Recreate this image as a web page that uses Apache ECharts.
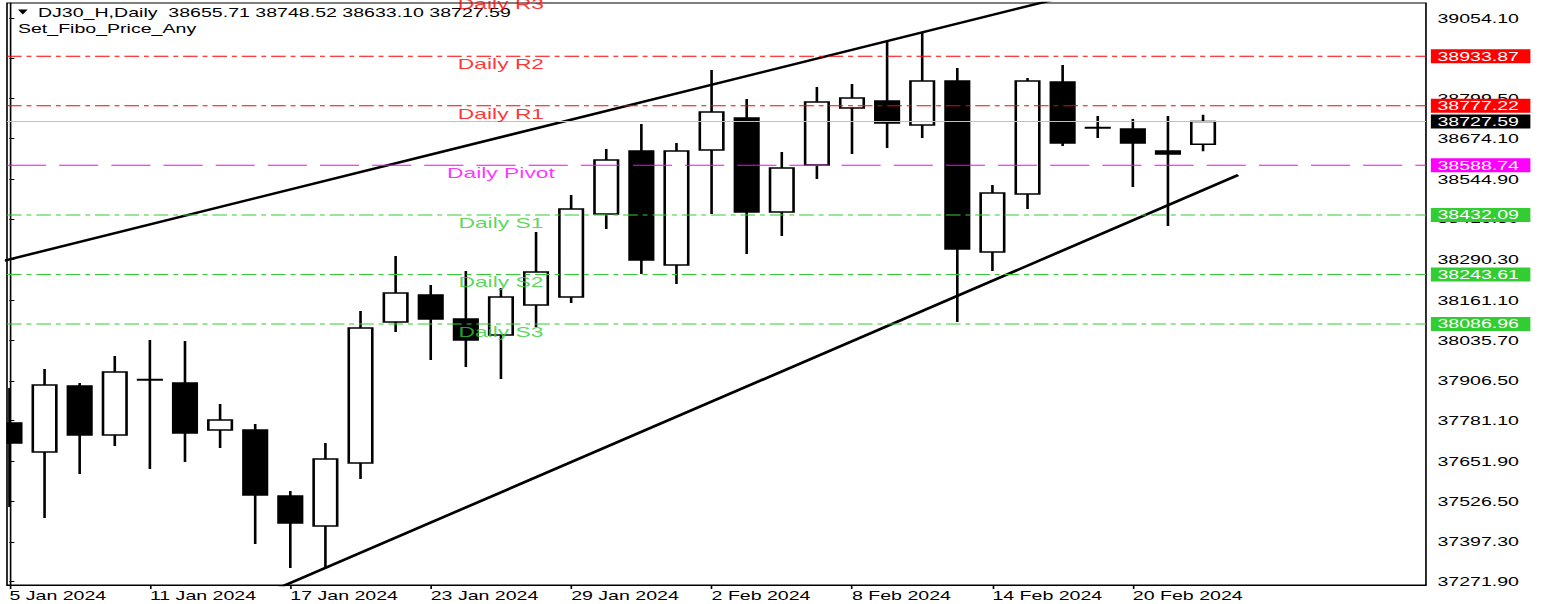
<!DOCTYPE html>
<html>
<head>
<meta charset="utf-8">
<title>DJ30_H, Daily</title>
<script src="https://cdn.jsdelivr.net/npm/echarts@6/dist/echarts.min.js"></script>
<style>
    html, body { margin: 0; padding: 0; background: #fff; overflow: hidden; }
    #chart { height: 604px; transform-origin: 0 0; }
</style>
</head>
<body>
<div id="chart"></div>
<script>
// bars (one per trading day)
const dates = ['5 Jan 2024', '8 Jan 2024', '9 Jan 2024', '10 Jan 2024', '11 Jan 2024', '12 Jan 2024',
    '15 Jan 2024', '16 Jan 2024', '17 Jan 2024', '18 Jan 2024', '19 Jan 2024', '22 Jan 2024',
    '23 Jan 2024', '24 Jan 2024', '25 Jan 2024', '26 Jan 2024', '29 Jan 2024', '30 Jan 2024',
    '31 Jan 2024', '1 Feb 2024', '2 Feb 2024', '5 Feb 2024', '6 Feb 2024', '7 Feb 2024',
    '8 Feb 2024', '9 Feb 2024', '12 Feb 2024', '13 Feb 2024', '14 Feb 2024', '15 Feb 2024',
    '16 Feb 2024', '19 Feb 2024', '20 Feb 2024', '21 Feb 2024', '22 Feb 2024'];
const opens = [37773.8, 37682.1, 37890.9, 37735.9, 37909.9, 37900.4, 37751.7, 37751.7, 37543.0, 37448.1,
    37647.3, 38093.3, 38178.7, 38102.8, 38052.2, 38147.1, 38172.4, 38434.9, 38634.2, 38273.6,
    38637.3, 38738.6, 38441.2, 38589.9, 38770.2, 38792.3, 38716.4, 38855.6, 38314.7, 38498.2,
    38852.4, 38706.9, 38703.8, 38634.2, 38655.71];
const highs = [37884.6, 37944.7, 37900.4, 37985.8, 38036.4, 38033.2, 37833.9, 37770.7, 37558.8, 37710.6,
    38128.1, 38302.1, 38210.3, 38254.6, 38200.9, 38378.0, 38495.0, 38640.5, 38719.6, 38659.5,
    38890.4, 38798.7, 38631.0, 38836.6, 38846.1, 38982.1, 39010.6, 38896.7, 38526.6, 38865.1,
    38906.2, 38744.9, 38735.4, 38744.9, 38748.52];
const lows = [37508.2, 37473.4, 37612.5, 37701.1, 37628.4, 37650.5, 37694.8, 37391.1, 37315.2, 37318.4,
    37596.7, 38061.7, 37973.1, 37951.0, 37913.0, 38077.5, 38153.4, 38387.5, 38245.1, 38213.5,
    38434.9, 38308.4, 38365.3, 38545.6, 38624.7, 38643.7, 38675.3, 38093.3, 38254.6, 38450.7,
    38650.0, 38675.3, 38520.3, 38397.0, 38633.10];
const closes = [37710.6, 37894.0, 37735.9, 37935.2, 37911.2, 37742.2, 37783.3, 37546.1, 37457.6, 37660.0,
    38074.3, 38185.0, 38102.8, 38036.4, 38172.4, 38251.5, 38450.7, 38605.7, 38289.4, 38634.2,
    38757.5, 38441.2, 38580.4, 38789.2, 38801.8, 38722.8, 38855.6, 38324.2, 38501.3, 38855.6,
    38659.5, 38708.4, 38659.5, 38624.7, 38727.59];

// fibo pivot levels
const levelNames = ['Daily R3', 'Daily R2', 'Daily R1', 'Daily Pivot', 'Daily S1', 'Daily S2', 'Daily S3'];
const levelValues = [39122.35, 38933.87, 38777.22, 38588.74, 38432.09, 38243.61, 38086.96];

// channel lines, [bar index, price]
const upperLine = [[-1, 38263.7], [30, 39119.9]];
const lowerLine = [[7, 37220.0], [35, 38558.3]];

// axis ticks
const yTicks = [37271.9, 37397.3, 37526.5, 37651.9, 37781.1, 37906.5, 38035.7, 38161.1,
    38290.3, 38419.5, 38544.9, 38674.1, 38799.5, 38928.7, 39054.1];
const xTicks = [0, 4, 8, 12, 16, 20, 24, 28, 32];

// visible window
const X_MIN = -0.07, X_MAX = 40.35;
const Y_MIN = 37261.4, Y_MAX = 39102.3;

// the screenshot is stretched sideways, so draw narrow and scale the box
const STRETCH = 1.63;
const W0 = 1542 / STRETCH;
const FONT = 'Liberation Sans';

const chartDom = document.getElementById('chart');
chartDom.style.width = W0 + 'px';
chartDom.style.transform = 'scaleX(' + STRETCH + ')';

const last = closes.length - 1;
const current = closes[last];
const headerText = 'DJ30_H,Daily  ' + [opens[last], highs[last], lows[last], closes[last]]
    .map(v => v.toFixed(2)).join(' ');

function levelColor(name) {
    if (name.indexOf('Pivot') >= 0) return '#ff00ff';
    if (name.indexOf(' R') >= 0) return '#ff0000';
    return '#32cd32';
}

const candleData = dates.map((d, i) => [i, opens[i], closes[i], lows[i], highs[i]]);

function renderCandle(params, api) {
    const i = api.value(0);
    const o = api.value(1), c = api.value(2);
    const pO = api.coord([i, o]);
    const pC = api.coord([i, c]);
    const pL = api.coord([i, api.value(3)]);
    const pH = api.coord([i, api.value(4)]);
    const w = api.size([1, 0])[0] * 0.67;
    const top = Math.min(pO[1], pC[1]);
    const h = Math.abs(pO[1] - pC[1]);
    return {
        type: 'group',
        children: [
            {
                type: 'line',
                shape: { x1: pH[0], y1: pH[1], x2: pL[0], y2: pL[1] },
                style: { stroke: '#000', lineWidth: 1.6 }
            },
            {
                type: 'rect',
                shape: { x: pO[0] - w / 2, y: top, width: w, height: h },
                style: { fill: c > o ? '#fff' : '#000', stroke: '#000', lineWidth: 1.6 }
            }
        ]
    };
}

// horizontal price line with its value box on the right
function priceLine(name, value, color, dash, boxColor) {
    return {
        name: name,
        type: 'line',
        data: [[X_MIN, value], [X_MAX, value]],
        symbol: 'none',
        silent: true,
        z: 3,
        lineStyle: { color: color, width: 1, type: dash },
        endLabel: {
            show: true,
            distance: 3,
            formatter: () => value.toFixed(2),
            color: '#fff',
            backgroundColor: boxColor,
            fontFamily: FONT,
            fontSize: 12,
            lineHeight: 12,
            padding: [1, 7, 1, 4]
        }
    };
}

const levelSeries = [];
levelNames.forEach((name, k) => {
    if (levelValues[k] > Y_MAX) return; // R3 sits above the window
    const col = levelColor(name);
    const dash = name.indexOf('Pivot') >= 0 ? [24, 8] : [9, 3, 3, 3];
    levelSeries.push(priceLine(name, levelValues[k], col, dash, col));
});
levelSeries.push(priceLine('Bid', current, '#c0c0c0', 'solid', '#000'));

const chart = echarts.init(chartDom, null, { renderer: 'svg' });
const option = {
    animation: false,
    backgroundColor: '#fff',
    grid: {
        left: 7 / STRETCH,
        right: W0 - 1426 / STRETCH,
        top: 3,
        bottom: 19,
        show: true,
        borderColor: '#000',
        borderWidth: 1
    },
    graphic: [
        {
            type: 'polygon',
            shape: { points: [[11, 9.5], [17, 9.5], [14, 14.5]] },
            style: { fill: '#000' }
        },
        {
            type: 'text',
            x: 23.3,
            y: 13,
            style: { text: headerText, font: '12px "' + FONT + '"', fill: '#000', verticalAlign: 'middle' }
        },
        {
            type: 'text',
            x: 11,
            y: 29,
            style: { text: 'Set_Fibo_Price_Any', font: '12px "' + FONT + '"', fill: '#000', verticalAlign: 'middle' }
        }
    ],
    xAxis: {
        type: 'value',
        min: X_MIN,
        max: X_MAX,
        axisLine: { show: true, lineStyle: { color: '#000', width: 1 } },
        axisTick: { show: true, customValues: xTicks, length: 4, lineStyle: { color: '#000' } },
        axisLabel: {
            customValues: xTicks,
            formatter: v => dates[v],
            align: 'left',
            margin: 5,
            color: '#000',
            fontFamily: FONT,
            fontSize: 12
        },
        splitLine: { show: false }
    },
    yAxis: {
        type: 'value',
        position: 'right',
        min: Y_MIN,
        max: Y_MAX,
        axisLine: { show: true, lineStyle: { color: '#000', width: 1 } },
        axisTick: { show: true, customValues: yTicks, length: 3, lineStyle: { color: '#000' } },
        axisLabel: {
            customValues: yTicks,
            formatter: v => v.toFixed(2),
            margin: 7,
            color: '#000',
            fontFamily: FONT,
            fontSize: 12
        },
        splitLine: { show: false }
    },
    series: [
        {
            name: 'DJ30_H',
            type: 'custom',
            renderItem: renderCandle,
            clip: true,
            encode: { x: 0, y: [1, 2, 3, 4] },
            data: candleData
        },
        {
            name: 'Upper channel',
            type: 'line',
            data: upperLine,
            symbol: 'none',
            clip: true,
            lineStyle: { color: '#000', width: 2.4 }
        },
        {
            name: 'Lower channel',
            type: 'line',
            data: lowerLine,
            symbol: 'none',
            clip: true,
            lineStyle: { color: '#000', width: 2.4 }
        }
    ].concat(levelSeries, [
        {
            name: 'Level labels',
            type: 'scatter',
            symbolSize: 0,
            clip: false,
            silent: true,
            z: 4,
            data: levelNames.map((name, k) => ({
                name: name,
                value: [14, levelValues[k]],
                label: { color: levelColor(name) }
            })),
            label: {
                show: true,
                position: 'bottom',
                distance: 1,
                formatter: '{b}',
                fontFamily: FONT,
                fontSize: 14
            }
        }
    ])
};
chart.setOption(option);
</script>
</body>
</html>
